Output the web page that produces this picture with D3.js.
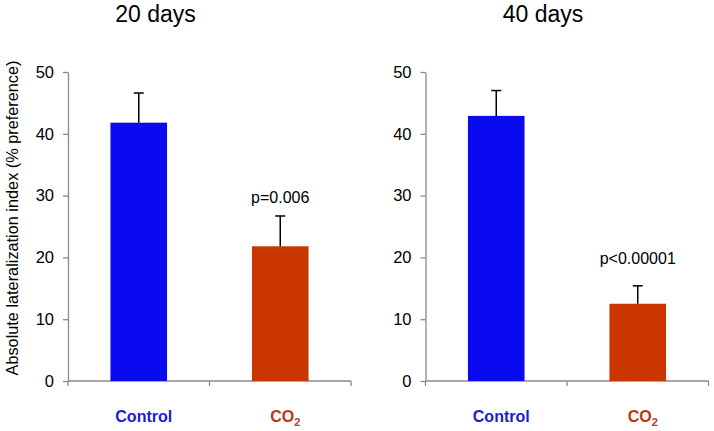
<!DOCTYPE html>
<html><head><meta charset="utf-8">
<script src="https://cdn.jsdelivr.net/npm/d3@7"></script>
<style>body{margin:0;background:#fff}svg{display:block}text{font-family:"Liberation Sans",Arial,sans-serif}</style>
</head><body>
<svg id="c" width="714" height="431"></svg>
<script>
const categories = ["Control", "CO2"];
const panelTitles = ["20 days", "40 days"];
const means20 = [41.8, 21.8];
const errors20 = [4.8, 4.9];
const means40 = [42.9, 12.5];
const errors40 = [4.1, 2.9];
const pLabels = ["p=0.006", "p<0.00001"];
const yTicks = [0, 10, 20, 30, 40, 50];

const barColors = ["#0a0af0", "#c93600"];
const labelColors = ["#1c1cd2", "#b83a10"];

const svg = d3.select("#c");
const y = d3.scaleLinear().domain([0, 50]).range([381, 72]);

const panels = [
  {title: panelTitles[0], means: means20, errs: errors20, p: pLabels[0], x0: 68, x1: 351, titleX: 155.5, pGap: 13},
  {title: panelTitles[1], means: means40, errs: errors40, p: pLabels[1], x0: 425.5, x1: 708.5, titleX: 543, pGap: 22}
];

panels.forEach(pn => {
  const g = svg.append("g");
  const x = d3.scaleBand().domain(categories).range([pn.x0, pn.x1]).paddingInner(0.6).paddingOuter(0.3);

  // y axis
  const yAxis = g.append("g").attr("transform", `translate(${pn.x0},0)`)
    .call(d3.axisLeft(y).tickValues(yTicks).tickSize(5).tickPadding(9).tickSizeOuter(0));
  yAxis.select(".domain").attr("stroke", "#8a8a8a").attr("stroke-width", 1.3);
  yAxis.selectAll(".tick line").attr("stroke", "#8a8a8a").attr("stroke-width", 1.3);
  yAxis.selectAll(".tick text").attr("font-size", 16.5).attr("fill", "#000")
    .attr("font-family", "'Liberation Sans',Arial,sans-serif");

  // x axis (ticks at band edges)
  const edges = [pn.x0, pn.x0 + x.step(), pn.x1];
  g.append("line").attr("x1", pn.x0).attr("x2", pn.x1).attr("y1", y(0)).attr("y2", y(0))
    .attr("stroke", "#8a8a8a").attr("stroke-width", 1.3);
  g.selectAll(".xt").data(edges).enter().append("line")
    .attr("x1", d => d).attr("x2", d => d).attr("y1", y(0)).attr("y2", y(0) + 5)
    .attr("stroke", "#8a8a8a").attr("stroke-width", 1.3);

  // bars
  g.selectAll(".bar").data(categories).enter().append("rect")
    .attr("x", d => x(d)).attr("width", x.bandwidth())
    .attr("y", (d, i) => y(pn.means[i]))
    .attr("height", (d, i) => y(0) - y(pn.means[i]))
    .attr("fill", (d, i) => barColors[i]);

  // error bars
  categories.forEach((c, i) => {
    const cx = x(c) + x.bandwidth() / 2;
    g.append("line").attr("x1", cx).attr("x2", cx)
      .attr("y1", y(pn.means[i])).attr("y2", y(pn.means[i] + pn.errs[i]))
      .attr("stroke", "#000").attr("stroke-width", 1.5);
    g.append("line").attr("x1", cx - 5).attr("x2", cx + 5)
      .attr("y1", y(pn.means[i] + pn.errs[i])).attr("y2", y(pn.means[i] + pn.errs[i]))
      .attr("stroke", "#000").attr("stroke-width", 1.5);
  });

  // p label
  const cx2 = x(categories[1]) + x.bandwidth() / 2;
  g.append("text").attr("x", cx2).attr("y", y(pn.means[1] + pn.errs[1]) - pn.pGap)
    .attr("text-anchor", "middle").attr("font-size", 16).text(pn.p);

  // title
  g.append("text").attr("x", pn.titleX).attr("y", 22).attr("text-anchor", "middle")
    .attr("font-size", 23).text(pn.title);

  // category labels
  categories.forEach((c, i) => {
    const cx = x(c) + x.bandwidth() / 2 + 5;
    const t = g.append("text").attr("x", cx).attr("y", 422).attr("text-anchor", "middle")
      .attr("font-size", 16).attr("font-weight", "bold").attr("fill", labelColors[i]);
    if (c === "CO2") {
      t.append("tspan").text("CO");
      t.append("tspan").attr("font-size", 11).attr("dy", 4).text("2");
    } else {
      t.text(c);
    }
  });
});

// y axis title
svg.append("text").attr("transform", "translate(18,218) rotate(-90)")
  .attr("text-anchor", "middle").attr("font-size", 16.3)
  .text("Absolute lateralization index (% preference)");
</script>
</body></html>
